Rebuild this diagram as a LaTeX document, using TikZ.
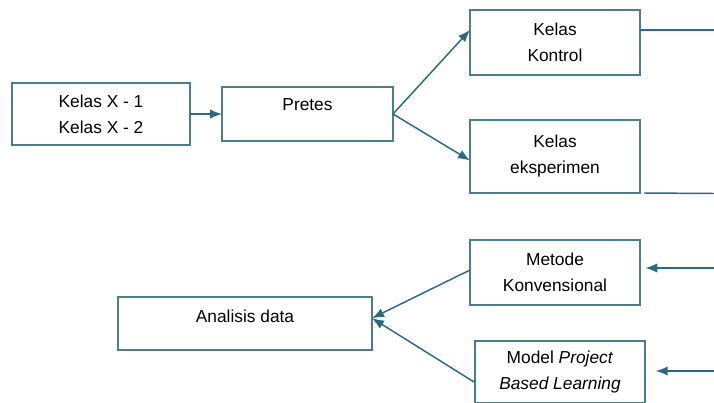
\documentclass[tikz,border=0pt]{standalone}
\usepackage{fontspec}
\setmainfont{Liberation Sans}
\usetikzlibrary{arrows.meta}

\begin{document}
\begin{tikzpicture}[x=0.75pt,y=-0.75pt,
  kotak/.style={draw=boxline,line width=1.1pt,rectangle,inner sep=0pt,outer sep=0pt,
    align=center,font=\fontsize{13pt}{19.5pt}\selectfont,minimum width=127.5pt},
  panah/.style={draw=arrowblue,line width=1.1pt,-{Latex[length=9pt,width=7pt]}},
  garis/.style={draw=arrowblue,line width=1.1pt}]
\definecolor{boxline}{HTML}{4E7D8C}
\definecolor{arrowblue}{HTML}{2B6787}
\useasboundingbox (0,0) rectangle (714,403);
\node [kotak,minimum width=133.5pt,minimum height=46.5pt] (kelasx) at (101,114) {Kelas X - 1\\Kelas X - 2};
\node [kotak,minimum width=128.25pt,minimum height=40.5pt,text height=9pt,text depth=15pt] (pretes) at (307.5,114) {Pretes};
\node [kotak,minimum height=48.75pt] (kontrol) at (555,42.5) {Kelas\\Kontrol};
\node [kotak,minimum height=54.75pt] (eksperimen) at (555,156.5) {Kelas\\eksperimen};
\node [kotak,minimum height=48.75pt] (metode) at (555,272.5) {Metode\\Konvensional};
\node [kotak,minimum height=46.5pt] (model) at (560,372) {Model \textit{Project}\\\textit{Based Learning}};
\node [kotak,minimum width=190.5pt,minimum height=39.75pt,text height=9pt,text depth=11pt] (analisis) at (245,323.5) {Analisis data};
\coordinate (r1) at (714,30);
\coordinate (r2) at (714,193.5);
\coordinate (r3) at (714,268);
\coordinate (r4) at (714,371);
\coordinate (m1) at (470,270);
\coordinate (m2) at (474,382);
% alur
\draw [panah] (kelasx) -- (pretes);
\draw [panah] (pretes.east) -- (kontrol.west |- r1);
\draw [panah] (pretes.east) -- ([yshift=-3pt]eksperimen.west);
\draw [garis] (kontrol.east |- r1) -- (r1);
\draw [garis] ([xshift=3pt]eksperimen.south east) -- (r2);
\draw [panah,shorten >=4pt] (r3) -- (metode.east |- r3);
\draw [panah,shorten >=8pt] (r4) -- (model.east |- r4);
\draw [panah] (m1) -- ([yshift=4pt]analisis.east);
\draw [panah] (m2) -- ([yshift=4pt]analisis.east);
\end{tikzpicture}
\end{document}
